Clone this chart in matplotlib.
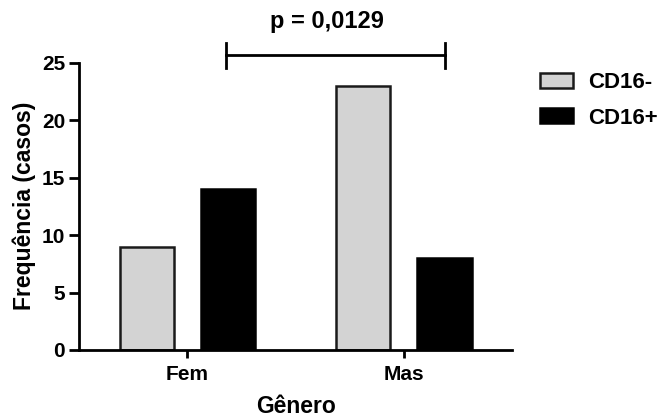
import matplotlib.pyplot as plt
import numpy as np

plt.rcParams['font.family'] = ['Liberation Sans', 'DejaVu Sans']
plt.rcParams['font.weight'] = 'bold'

generos = ['Fem', 'Mas']
cd16_neg = [9, 23]
cd16_pos = [14, 8]
series = ['CD16-', 'CD16+']
p_text = 'p = 0,0129'

fig = plt.figure(figsize=(6.66, 4.19), dpi=100)
ax = fig.add_axes([0.1186, 0.1647, 0.6504, 0.6859])

x = np.arange(len(generos))
w = 0.25
ax.bar(x - 0.1875, cd16_neg, w, color='#d3d3d3', edgecolor='#1a1a1a', linewidth=1.8, label=series[0])
ax.bar(x + 0.1875, cd16_pos, w, color='black', edgecolor='black', linewidth=1.8, label=series[1])

ax.set_xlim(-0.5, 1.5)
ax.set_ylim(0, 25)
ax.set_yticks([0, 5, 10, 15, 20, 25])
ax.set_xticks(x)
ax.set_xticklabels(generos, fontsize=15, fontweight='bold')
ax.tick_params(axis='y', labelsize=15, width=2, length=7, pad=3)
ax.tick_params(axis='x', width=2, length=6, pad=5)
for s in ['top', 'right']:
    ax.spines[s].set_visible(False)
for s in ['left', 'bottom']:
    ax.spines[s].set_linewidth(2)

ax.set_xlabel('Gênero', fontsize=16.5, fontweight='bold', labelpad=8)
ax.set_ylabel('Frequência (casos)', fontsize=16.5, fontweight='bold', labelpad=4)

# significance bracket (CD16+ Fem vs CD16+ Mas)
bx0, bx1, by = x[0] + 0.18, x[1] + 0.19, 25.66
ax.plot([bx0, bx1], [by, by], color='black', lw=2, clip_on=False)
ax.plot([bx0, bx0], [24.53, 26.7], color='black', lw=2, clip_on=False)
ax.plot([bx1, bx1], [24.53, 26.7], color='black', lw=2, clip_on=False)
ax.text(0.645, 28.6, p_text, ha='center', va='center', fontsize=17, fontweight='bold')

ax.legend(loc='upper left', bbox_to_anchor=(0.811, 0.828), bbox_transform=fig.transFigure,
          frameon=False, fontsize=16, handlelength=1.5, handleheight=0.63,
          handletextpad=0.68, labelspacing=0.65, borderaxespad=0, borderpad=0)

fig.savefig('out.png', dpi=100)
